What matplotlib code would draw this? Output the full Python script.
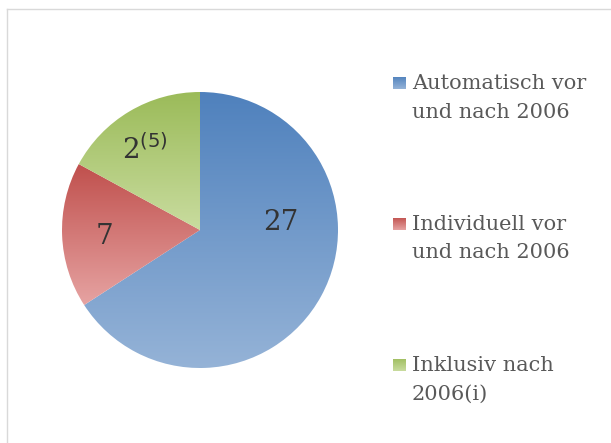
import matplotlib
matplotlib.use("Agg")
import matplotlib.pyplot as plt
import numpy as np
from matplotlib.colors import LinearSegmentedColormap

# Data
categories = ["Automatisch vor\nund nach 2006", "Individuell vor\nund nach 2006", "Inklusiv nach\n2006(i)"]
values = [27, 7, 7]
value_labels = ["27", "7", r"2$^{(5)}$"]
top_colors = ["#4F81BD", "#C0504D", "#9BBB59"]
bottom_colors = ["#95B3D7", "#E6A3A2", "#C9DC9F"]

W, H = 611, 443
fig = plt.figure(figsize=(W / 100, H / 100), dpi=100)
fig.patch.set_facecolor("white")

# Frame (light gray border starting near top-left, running off right/bottom)
fig.add_artist(plt.Line2D([7 / W, 1.0], [1 - 9 / H, 1 - 9 / H], color="#D9D9D9", lw=1.0))
fig.add_artist(plt.Line2D([7 / W, 7 / W], [0.0, 1 - 9 / H], color="#D9D9D9", lw=1.0))

cx, cy, r = 200, 230, 138
ax = fig.add_axes([(cx - r) / W, (H - cy - r) / H, 2 * r / W, 2 * r / H])
ax.axis("off")

wedges, _ = ax.pie(values, startangle=90, counterclock=False, radius=1,
                   colors=top_colors, wedgeprops=dict(linewidth=0))

grad = np.linspace(0, 1, 256).reshape(-1, 1)
for w, ct, cb in zip(wedges, top_colors, bottom_colors):
    verts = w.get_path().vertices
    x0, x1 = verts[:, 0].min(), verts[:, 0].max()
    y0, y1 = verts[:, 1].min(), verts[:, 1].max()
    cmap = LinearSegmentedColormap.from_list("g", [ct, cb])
    im = ax.imshow(grad, cmap=cmap, extent=[x0, x1, y0, y1], origin="upper",
                   aspect="auto", zorder=2, interpolation="bilinear")
    im.set_clip_path(w)
    w.set_facecolor("none")
ax.set_xlim(-1, 1)
ax.set_ylim(-1, 1)
ax.set_aspect("equal")

font = "DejaVu Serif"
label_pos = [(281, 222), (104, 237), (145, 150)]
for (px, py), lab in zip(label_pos, value_labels):
    xd = (px - cx) / r
    yd = (cy - py) / r
    ax.text(xd, yd, lab, ha="center", va="center", fontsize=20,
            family=font, color="#333333", zorder=5)

# Legend drawn manually
sq_y = [83, 224, 365]
for yc, lab, ct, cb in zip(sq_y, categories, top_colors, bottom_colors):
    sx0, sx1 = 393 / W, 406 / W
    sy0, sy1 = 1 - (yc + 6.5) / H, 1 - (yc - 6.5) / H
    lax = fig.add_axes([sx0, sy0, sx1 - sx0, sy1 - sy0])
    lax.axis("off")
    cmap = LinearSegmentedColormap.from_list("g", [ct, cb])
    lax.imshow(grad, cmap=cmap, aspect="auto", extent=[0, 1, 0, 1], origin="upper")
    for i, line in enumerate(lab.split("\n")):
        fig.text(412 / W, 1 - (yc + 6 + 28.5 * i) / H, line, ha="left", va="baseline",
                 fontsize=15, family=font, color="#595959")

fig.savefig("out.png", dpi=100)
